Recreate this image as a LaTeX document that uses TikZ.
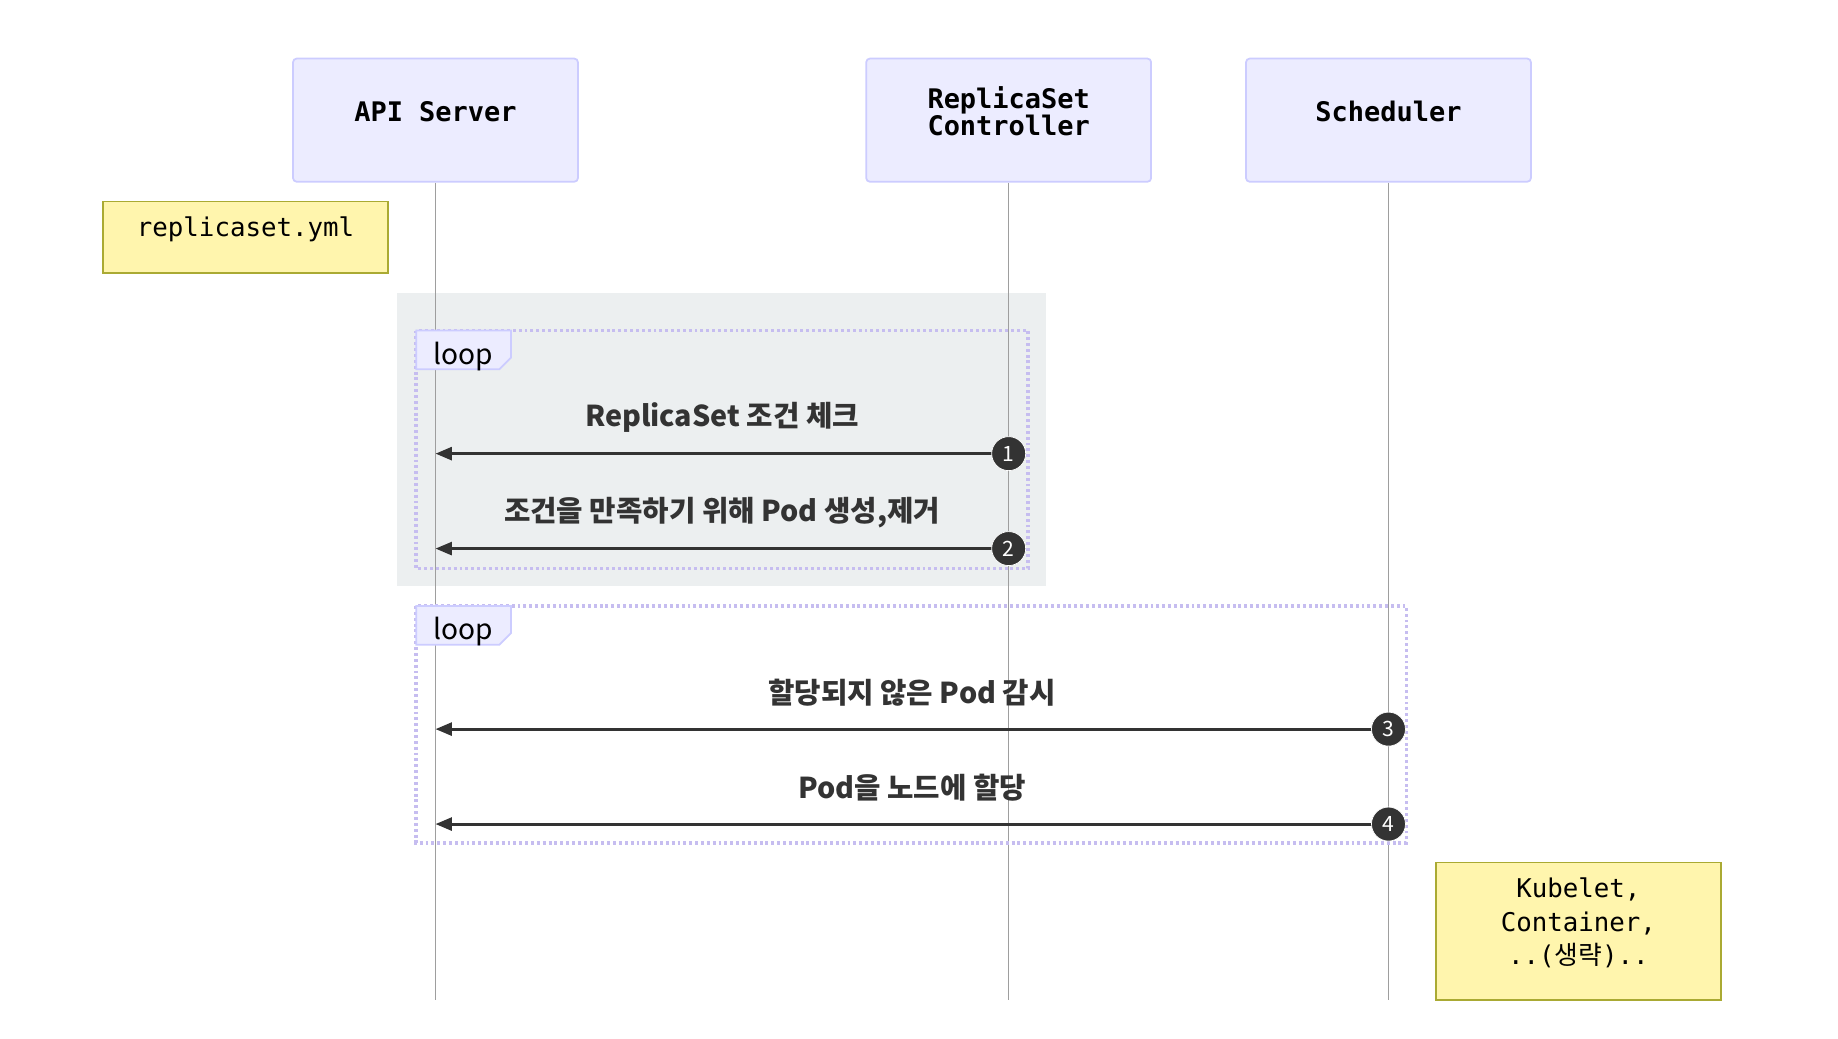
\documentclass[tikz,border=0pt]{standalone}
\usepackage{fontspec}
\setmonofont{DejaVu Sans Mono}
\newfontfamily\kofont{Noto Sans CJK KR}
\usetikzlibrary{arrows.meta}
\definecolor{actorfill}{HTML}{ECECFF}
\definecolor{actorline}{HTML}{CCCCFF}
\definecolor{loopline}{HTML}{C6BDF0}
\definecolor{notefill}{HTML}{FFF5AD}
\definecolor{noteline}{HTML}{AAAA33}
\definecolor{rectfill}{HTML}{ECEFF0}
\definecolor{dark}{HTML}{333333}

\begin{document}
\begin{tikzpicture}[x=1pt,y=-1pt,
	actor/.style={draw=actorline,fill=actorfill,line width=1.5pt,rounded corners=3pt,
		minimum width=243pt,minimum height=105pt},
	actorlabel/.style={font=\fontsize{23}{23}\selectfont\ttfamily\bfseries,align=center,yshift=7.5pt},
	note/.style={draw=noteline,fill=notefill,line width=1.2pt,minimum width=243pt},
	notelabel/.style={font=\fontsize{22}{28.5}\selectfont\ttfamily,align=center,yshift=7pt},
	lifeline/.style={draw=black!38,line width=0.8pt},
	loopbox/.style={draw=loopline,line width=3pt,dash pattern=on 2.5pt off 2.5pt},
	looptab/.style={draw=actorline,fill=actorfill,line width=1.5pt},
	looplabel/.style={font=\kofont\fontsize{24}{24}\selectfont},
	msg/.style={draw=dark,line width=2.5pt,-{Triangle[length=14pt,width=11pt]}},
	msglabel/.style={font=\kofont\bfseries\fontsize{24.5}{25}\selectfont,text=dark,yshift=31pt},
	seqnum/.style={circle,fill=dark,draw=white,line width=0.6pt,minimum size=29pt,inner sep=0pt,
		text=white,font=\kofont\fontsize{18}{18}\selectfont}]
	\useasboundingbox (0,0) rectangle (1568,886);
	% rect highlight
	\fill[rectfill] (339,250) rectangle (892,500);
	% participants and lifelines
	\node[actor,label={[actorlabel]center:API Server}] (api) at (371.5,102.5) {};
	\node[actor,label={[actorlabel]center:ReplicaSet\\Controller}] (rsc) at (860.5,102.5) {};
	\node[actor,label={[actorlabel]center:Scheduler}] (sch) at (1184.5,102.5) {};
	\foreach \p in {api,rsc,sch}{
		\coordinate (\p-end) at (\p |- 0,853);
		\draw[lifeline] (\p) -- (\p-end);}
	% notes
	\node[note,minimum height=61pt,label={[notelabel]center:replicaset.yml}] (yml) at (209.5,202.5) {};
	\node[note,minimum height=117pt,label={[notelabel]center:Kubelet,\\Container,\\..({\kofont 생략})..}] (kubelet) at (1346.5,794.5) {};
	% loops
	\foreach \i/\top/\right/\bottom in {1/282/877/485, 2/517/1200/719}{
		\draw[loopbox] (355,\top) rectangle (\right,\bottom);
		\draw[looptab] (355,\top) -- (436,\top) -- (436,\top+23) -- (426,\top+33) -- (355,\top+33) -- cycle;
		\node[looplabel] (loop\i) at (395,\top+22) {loop};}
	% messages
	\foreach \n/\y/\from/\txt in {1/387/rsc/{ReplicaSet 조건 체크},
			2/468/rsc/{조건을 만족하기 위해 Pod 생성,제거},
			3/622/sch/{할당되지 않은 Pod 감시},
			4/703/sch/{Pod을 노드에 할당}}{
		\coordinate (m\n) at (\from |- 0,\y);
		\draw[msg] (m\n) -- (m\n -| api) node[midway,msglabel] {\txt};
		\node[seqnum] (n\n) at (m\n) {\n};}
\end{tikzpicture}
\end{document}
